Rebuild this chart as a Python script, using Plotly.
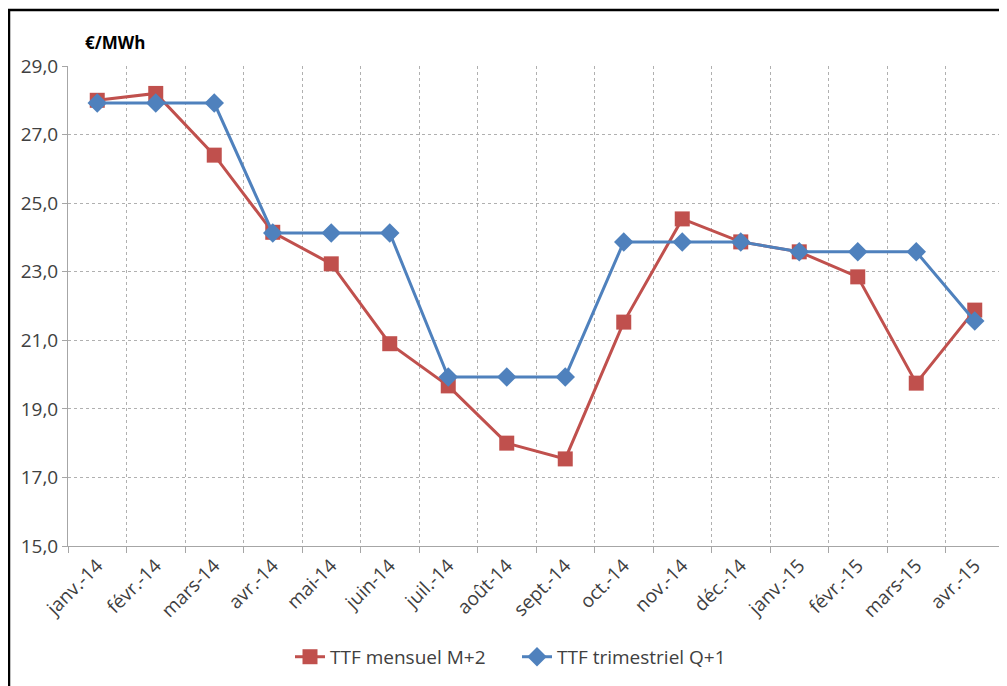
import plotly.graph_objects as go

months = ["janv.-14", "févr.-14", "mars-14", "avr.-14", "mai-14", "juin-14", "juil.-14",
          "août-14", "sept.-14", "oct.-14", "nov.-14", "déc.-14", "janv.-15", "févr.-15",
          "mars-15", "avr.-15"]
ttf_m2 = [28.0, 28.2, 26.4, 24.15, 23.23, 20.9, 19.67, 18.0, 17.54, 21.53, 24.54, 23.87,
          23.58, 22.85, 19.75, 21.88]
ttf_q1 = [27.92, 27.92, 27.92, 24.13, 24.13, 24.13, 19.93, 19.93, 19.93, 23.87, 23.87, 23.87,
          23.58, 23.58, 23.58, 21.56]
y_ticks = [15, 17, 19, 21, 23, 25, 27, 29]

RED = "#C0504D"
BLUE = "#4F81BD"
FONT = "Open Sans"
TXT = "#404040"

W, H = 999, 678
L, T, PW, PH = 60, 58, 936, 480

fig = go.Figure()
fig.add_trace(go.Scatter(x=months, y=ttf_m2, mode="lines+markers", name="TTF mensuel M+2",
                         line=dict(color=RED, width=3),
                         marker=dict(symbol="square", size=15, color=RED)))
fig.add_trace(go.Scatter(x=months, y=ttf_q1, mode="lines+markers", name="TTF trimestriel Q+1",
                         line=dict(color=BLUE, width=3),
                         marker=dict(symbol="diamond", size=15, color=BLUE)))

fig.update_layout(
    width=W, height=H,
    margin=dict(l=L, r=W - L - PW, t=T, b=H - T - PH),
    paper_bgcolor="white", plot_bgcolor="white",
    font=dict(family=FONT, size=17, color=TXT),
    separators=", ",
    showlegend=True,
    legend=dict(orientation="h", x=(282 - L) / PW, xanchor="left", y=-0.231, yanchor="middle",
                font=dict(size=19, color=TXT), entrywidth=182, entrywidthmode="pixels"),
    xaxis=dict(type="category", tickson="boundaries", tickangle=-45,
               range=[-0.5, len(months) - 0.5], autorange=False,
               showgrid=True, gridcolor="#B0B0B0", griddash="3px,3px", gridwidth=1,
               showline=True, linecolor="#A6A6A6", linewidth=1,
               ticks="outside", ticklen=6, tickcolor="#A6A6A6",
               tickfont=dict(size=19, color=TXT)),
    yaxis=dict(range=[15, 29], tickvals=y_ticks, tickformat=".1f",
               showgrid=True, gridcolor="#B0B0B0", griddash="3px,3px", gridwidth=1,
               showline=True, linecolor="#A6A6A6", linewidth=1,
               ticks="outside", ticklen=5, tickcolor="#A6A6A6",
               tickfont=dict(size=19, color=TXT), zeroline=False),
    annotations=[dict(text="<b>€/MWh</b>", xref="paper", yref="paper", x=0.016, y=1.048,
                      xanchor="left", yanchor="middle", showarrow=False,
                      font=dict(size=17, color="black", family=FONT))],
    shapes=[dict(type="rect", xref="paper", yref="paper",
                 x0=-59 / PW, x1=1.2, y0=-0.6, y1=(PH + T - 2) / PH,
                 line=dict(color="black", width=2.5), fillcolor="rgba(0,0,0,0)", layer="below")],
)

fig.write_html("out.html")
